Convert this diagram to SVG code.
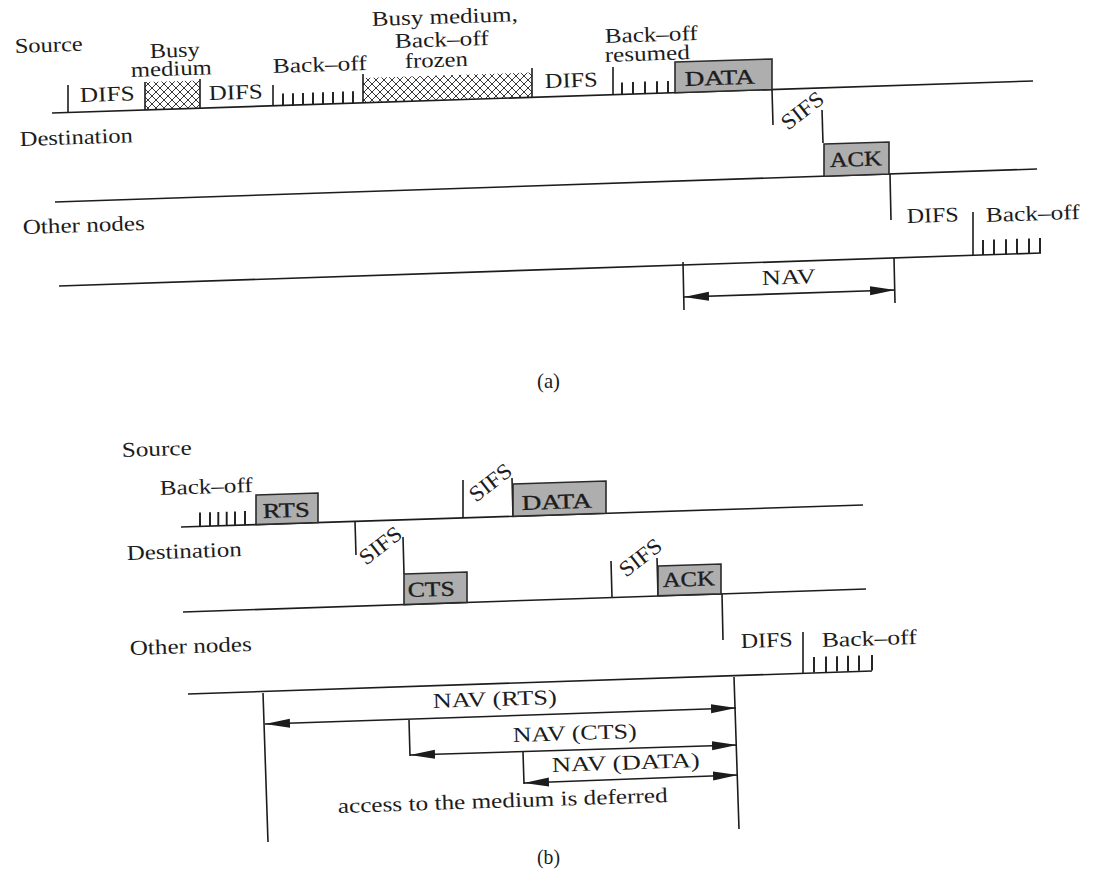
<svg xmlns="http://www.w3.org/2000/svg" width="1097" height="872" viewBox="0 0 1097 872">
<style>
text{font-family:"Liberation Serif","Times New Roman",serif;font-size:21px;fill:#1c1c1c}
.b{stroke:#1c1c1c;stroke-width:0.35px}
.s{font-size:22px}
.ln{stroke:#1c1c1c;stroke-width:1.6;fill:none}
.tk{stroke:#1c1c1c;stroke-width:1.9;fill:none}
.box{fill:#aeaeae;stroke:#2a2a2a;stroke-width:1.6}
.hat{fill:url(#hatch);stroke:none}
</style>
<defs>
<pattern id="hatch" width="8" height="8" patternUnits="userSpaceOnUse">
<path d="M0,0 L8,8 M8,0 L0,8" stroke="#222" stroke-width="0.9"/>
</pattern>
<marker id="ah" markerUnits="userSpaceOnUse" markerWidth="26" markerHeight="10" refX="25" refY="4.5" orient="auto-start-reverse">
<path d="M0,0 L25,4.5 L0,9 Z" fill="#1c1c1c"/>
</marker>
</defs>
<rect width="1097" height="872" fill="#ffffff"/>

<!-- ===== (a) ===== -->
<g id="a-labels">
<text x="15" y="53" textLength="68" lengthAdjust="spacingAndGlyphs" transform="rotate(-1.9 15 53)">Source</text>
<text x="20" y="146" textLength="113" lengthAdjust="spacingAndGlyphs" transform="rotate(-1.9 20 146)">Destination</text>
<text x="23" y="234" textLength="122" lengthAdjust="spacingAndGlyphs" transform="rotate(-1.9 23 234)">Other nodes</text>
<text x="537" y="388" textLength="23" lengthAdjust="spacingAndGlyphs">(a)</text>
</g>

<g id="a-source-line"><path class="ln" d="M52,113 L1033,81"/></g>

<g id="a-difs1">
<path class="ln" d="M68,85 L68,112.5"/>
<text x="80" y="102" textLength="55" lengthAdjust="spacingAndGlyphs" transform="rotate(-1.9 80 102)">DIFS</text>
</g>
<g id="a-busy1">
<path class="hat" d="M145,82 L200,80.5 L200,108.2 L145,110 Z"/>
<path class="ln" d="M145,82 L145,110 M200,79 L200,108.2"/>
<text x="150" y="58" textLength="50" lengthAdjust="spacingAndGlyphs" transform="rotate(-1.9 150 58)">Busy</text>
<text x="131" y="77" textLength="81" lengthAdjust="spacingAndGlyphs" transform="rotate(-1.9 131 77)">medium</text>
</g>
<g id="a-difs2">
<text x="209" y="100" textLength="54" lengthAdjust="spacingAndGlyphs" transform="rotate(-1.9 209 100)">DIFS</text>
</g>
<g id="a-backoff1">
<path class="ln" d="M273,85 L273,105.8"/>
<path class="tk" d="M283,93.5 V105.5 M293,93.2 V105.1 M303,92.9 V104.8 M313,92.6 V104.5 M323,92.2 V104.2 M333,91.9 V103.8 M343,91.6 V103.5 M353,91.3 V103.2"/>
<text x="273" y="73" textLength="94" lengthAdjust="spacingAndGlyphs" transform="rotate(-1.9 273 73)">Back–off</text>
</g>
<g id="a-busy2">
<path class="hat" d="M363,78 L532,72.5 L532,97.4 L363,102.9 Z"/>
<path class="ln" d="M363,74 L363,102.9 M532,68 L532,97.4"/>
<text x="372" y="26" textLength="146" lengthAdjust="spacingAndGlyphs" transform="rotate(-1.9 372 26)">Busy medium,</text>
<text x="395" y="48" textLength="94" lengthAdjust="spacingAndGlyphs" transform="rotate(-1.9 395 48)">Back–off</text>
<text x="405" y="68" textLength="63" lengthAdjust="spacingAndGlyphs" transform="rotate(-1.9 405 68)">frozen</text>
</g>
<g id="a-difs3">
<text x="545" y="88" textLength="53" lengthAdjust="spacingAndGlyphs" transform="rotate(-1.9 545 88)">DIFS</text>
</g>
<g id="a-backoff2">
<path class="ln" d="M613,67 L613,94.7"/>
<path class="tk" d="M622,82.4 V94.4 M633,82 V94 M645,81.6 V93.6 M657,81.2 V93.2 M668,80.9 V92.9"/>
<text x="605" y="43" textLength="93" lengthAdjust="spacingAndGlyphs" transform="rotate(-1.9 605 43)">Back–off</text>
<text x="605" y="62" textLength="85" lengthAdjust="spacingAndGlyphs" transform="rotate(-1.9 605 62)">resumed</text>
</g>
<g id="a-data">
<path class="box" d="M675,62 L772,59 L772,89.5 L675,92.7 Z"/>
<text class="b" x="685" y="86" textLength="70" lengthAdjust="spacingAndGlyphs" transform="rotate(-1.9 685 86)">DATA</text>
</g>
<g id="a-sifs">
<path class="ln" d="M772,89.5 L773,125"/>
<text class="s" x="788" y="131" textLength="48" lengthAdjust="spacingAndGlyphs" transform="rotate(-38 788 131)">SIFS</text>
<path class="ln" d="M822,110 L823,143"/>
</g>

<g id="a-dest-line"><path class="ln" d="M55,202 L1037,169"/></g>
<g id="a-ack">
<path class="box" d="M824,144 L889,142 L889,174 L824,176.2 Z"/>
<text class="b" x="830" y="167" textLength="52" lengthAdjust="spacingAndGlyphs" transform="rotate(-1.9 830 167)">ACK</text>
</g>

<g id="a-other-line"><path class="ln" d="M59,286 L1041,253"/></g>
<g id="a-other-difs">
<path class="ln" d="M890,174 L891,220"/>
<text x="907" y="223" textLength="52" lengthAdjust="spacingAndGlyphs" transform="rotate(-1.9 907 223)">DIFS</text>
</g>
<g id="a-other-backoff">
<path class="ln" d="M973,212 L973,255.3"/>
<path class="tk" d="M983,240 V255 M994,239.6 V254.6 M1006,239.2 V254.2 M1017,238.8 V253.8 M1029,238.4 V253.4 M1040,238 V253"/>
<text x="986" y="222" textLength="94" lengthAdjust="spacingAndGlyphs" transform="rotate(-1.9 986 222)">Back–off</text>
</g>
<g id="a-nav">
<path class="ln" d="M683,262 L684,310 M894,258 L895,303"/>
<text x="762" y="285" textLength="54" lengthAdjust="spacingAndGlyphs" transform="rotate(-1.9 762 285)">NAV</text>
</g>

<!-- ===== (b) ===== -->
<g id="b-labels">
<text x="122" y="457" textLength="70" lengthAdjust="spacingAndGlyphs" transform="rotate(-1.9 122 457)">Source</text>
<text x="127" y="560" textLength="115" lengthAdjust="spacingAndGlyphs" transform="rotate(-1.9 127 560)">Destination</text>
<text x="130" y="655" textLength="122" lengthAdjust="spacingAndGlyphs" transform="rotate(-1.9 130 655)">Other nodes</text>
<text x="537" y="864" textLength="23" lengthAdjust="spacingAndGlyphs">(b)</text>
</g>

<g id="b-source-line"><path class="ln" d="M181,527 L863,505"/></g>
<g id="b-backoff">
<path class="tk" d="M200,512.5 V526.4 M210,512.2 V526.1 M218.3,511.9 V525.8 M226.7,511.7 V525.5 M235,511.4 V525.3 M245,511.1 V524.9"/>
<text x="160" y="495" textLength="93" lengthAdjust="spacingAndGlyphs" transform="rotate(-1.9 160 495)">Back–off</text>
</g>
<g id="b-rts">
<path class="box" d="M256,495 L318,493 L318,522.6 L256,524.6 Z"/>
<text class="b" x="263" y="518" textLength="47" lengthAdjust="spacingAndGlyphs" transform="rotate(-1.9 263 518)">RTS</text>
</g>
<g id="b-sifs1">
<path class="ln" d="M355,521.4 L356,555"/>
<text class="s" x="366" y="566" textLength="48" lengthAdjust="spacingAndGlyphs" transform="rotate(-38 366 566)">SIFS</text>
<path class="ln" d="M403,537 L404,574"/>
</g>
<g id="b-sifs2">
<path class="ln" d="M463,480 L463,517.9"/>
<text class="s" x="476" y="503" textLength="48" lengthAdjust="spacingAndGlyphs" transform="rotate(-38 476 503)">SIFS</text>
<path class="ln" d="M512,478 L513,516.3"/>
</g>
<g id="b-data">
<path class="box" d="M513,484 L606,481 L606,513.3 L513,516.3 Z"/>
<text class="b" x="522" y="510" textLength="70" lengthAdjust="spacingAndGlyphs" transform="rotate(-1.9 522 510)">DATA</text>
</g>

<g id="b-dest-line"><path class="ln" d="M183,612 L866,589"/></g>
<g id="b-cts">
<path class="box" d="M404,574 L467,572 L467,602.4 L404,604.6 Z"/>
<text class="b" x="408" y="597" textLength="47" lengthAdjust="spacingAndGlyphs" transform="rotate(-1.9 408 597)">CTS</text>
</g>
<g id="b-sifs3">
<path class="ln" d="M611,561 L612,597.6"/>
<text class="s" x="626" y="578" textLength="48" lengthAdjust="spacingAndGlyphs" transform="rotate(-38 626 578)">SIFS</text>
<path class="ln" d="M657,558 L658,596"/>
</g>
<g id="b-ack">
<path class="box" d="M658,566 L721,564 L721,593.9 L658,595.8 Z"/>
<text class="b" x="663" y="587" textLength="52" lengthAdjust="spacingAndGlyphs" transform="rotate(-1.9 663 587)">ACK</text>
</g>

<g id="b-other-line"><path class="ln" d="M188,694 L872,671"/></g>
<g id="b-other-difs">
<path class="ln" d="M722,594 L723,640"/>
<text x="741" y="648" textLength="52" lengthAdjust="spacingAndGlyphs" transform="rotate(-1.9 741 648)">DIFS</text>
</g>
<g id="b-other-backoff">
<path class="ln" d="M803,632 L803,673"/>
<path class="tk" d="M814,657 V672.4 M826,656.6 V672 M837,656.2 V671.6 M848,655.8 V671.2 M859,655.4 V670.8 M872,655 V670.4"/>
<text x="822" y="647" textLength="95" lengthAdjust="spacingAndGlyphs" transform="rotate(-1.9 822 647)">Back–off</text>
</g>
<g id="b-nav">
<path class="ln" d="M263,693 L268,842 M734,677 L739,829 M409,720 L410,756 M523,752 L524,784"/>
<text x="433" y="708" textLength="124" lengthAdjust="spacingAndGlyphs" transform="rotate(-1.9 433 708)">NAV (RTS)</text>
<text x="513" y="742" textLength="124" lengthAdjust="spacingAndGlyphs" transform="rotate(-1.9 513 742)">NAV (CTS)</text>
<text x="552" y="772" textLength="148" lengthAdjust="spacingAndGlyphs" transform="rotate(-1.9 552 772)">NAV (DATA)</text>
<text x="338" y="813" textLength="330" lengthAdjust="spacingAndGlyphs" transform="rotate(-1.9 338 813)">access to the medium is deferred</text>
</g>

<g id="connectors">
<path class="ln" d="M684,297 L895,290" marker-start="url(#ah)" marker-end="url(#ah)"/>
<path class="ln" d="M265,724 L736,708" marker-start="url(#ah)" marker-end="url(#ah)"/>
<path class="ln" d="M410,755 L737,745" marker-start="url(#ah)" marker-end="url(#ah)"/>
<path class="ln" d="M524,783 L738,775" marker-start="url(#ah)" marker-end="url(#ah)"/>
</g>
</svg>
